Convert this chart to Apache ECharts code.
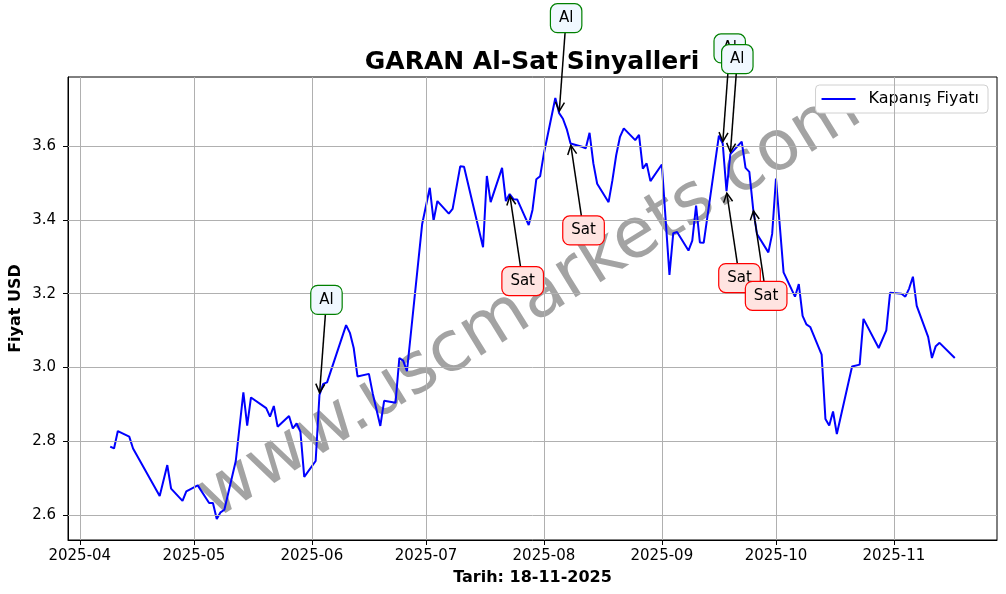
<!DOCTYPE html>
<html><head><meta charset="utf-8">
<script src="https://cdn.jsdelivr.net/npm/echarts@6/dist/echarts.min.js"></script>
<style>html,body{margin:0;padding:0;background:#fff}#c{width:1006px;height:594px}</style>
</head><body><div id="c"></div>
<script>
const dates = ['2025-04-09','2025-04-10','2025-04-11','2025-04-14','2025-04-15','2025-04-22','2025-04-24','2025-04-25','2025-04-28','2025-04-29',
'2025-05-02','2025-05-05','2025-05-06','2025-05-07','2025-05-08','2025-05-09','2025-05-12','2025-05-14','2025-05-15','2025-05-16',
'2025-05-20','2025-05-21','2025-05-22','2025-05-23','2025-05-26','2025-05-27','2025-05-28','2025-05-29','2025-05-30','2025-06-02',
'2025-06-03','2025-06-04','2025-06-05','2025-06-10','2025-06-11','2025-06-12','2025-06-13','2025-06-16','2025-06-17','2025-06-19',
'2025-06-20','2025-06-23','2025-06-24','2025-06-25','2025-06-26','2025-06-30','2025-07-02','2025-07-03','2025-07-04','2025-07-07',
'2025-07-08','2025-07-10','2025-07-11','2025-07-16','2025-07-17','2025-07-18','2025-07-21','2025-07-22','2025-07-23','2025-07-24',
'2025-07-25','2025-07-28','2025-07-29','2025-07-30','2025-07-31','2025-08-01','2025-08-04','2025-08-05','2025-08-06','2025-08-07',
'2025-08-08','2025-08-11','2025-08-12','2025-08-13','2025-08-14','2025-08-15','2025-08-18','2025-08-19','2025-08-20','2025-08-21',
'2025-08-22','2025-08-25','2025-08-26','2025-08-27','2025-08-28','2025-08-29','2025-09-01','2025-09-03','2025-09-04','2025-09-05',
'2025-09-08','2025-09-09','2025-09-10','2025-09-11','2025-09-12','2025-09-16','2025-09-17','2025-09-18','2025-09-19','2025-09-22',
'2025-09-23','2025-09-24','2025-09-25','2025-09-26','2025-09-29','2025-09-30','2025-10-01','2025-10-03','2025-10-06','2025-10-07',
'2025-10-08','2025-10-09','2025-10-10','2025-10-13','2025-10-14','2025-10-15','2025-10-16','2025-10-17','2025-10-21','2025-10-23',
'2025-10-24','2025-10-28','2025-10-30','2025-10-31','2025-11-03','2025-11-04','2025-11-05','2025-11-06','2025-11-07','2025-11-10',
'2025-11-11','2025-11-12','2025-11-13','2025-11-17'];
const closes = [2.786,2.781,2.828,2.813,2.781,2.652,2.736,2.672,2.639,2.665,
2.681,2.633,2.633,2.590,2.608,2.615,2.747,2.933,2.843,2.919,
2.890,2.867,2.896,2.840,2.869,2.835,2.849,2.826,2.704,2.747,
2.926,2.956,2.960,3.115,3.094,3.053,2.976,2.983,2.930,2.842,
2.910,2.905,3.026,3.019,2.990,3.389,3.487,3.398,3.451,3.417,
3.430,3.545,3.544,3.326,3.519,3.448,3.541,3.451,3.470,3.456,
3.455,3.386,3.427,3.510,3.518,3.580,3.730,3.689,3.674,3.646,
3.607,3.598,3.594,3.636,3.553,3.498,3.448,3.507,3.575,3.625,
3.648,3.616,3.630,3.539,3.553,3.505,3.550,3.251,3.364,3.367,
3.317,3.344,3.439,3.339,3.338,3.628,3.607,3.478,3.578,3.612,
3.541,3.530,3.430,3.362,3.312,3.362,3.512,3.258,3.192,3.226,
3.140,3.117,3.110,3.035,2.861,2.843,2.881,2.820,3.003,3.008,
3.132,3.053,3.101,3.203,3.200,3.192,3.214,3.246,3.167,3.083,
3.026,3.058,3.067,3.026];
const signalDates = ['2025-06-03','2025-07-23','2025-08-05','2025-08-08','2025-09-17','2025-09-18','2025-09-19','2025-09-25'];
const signalTypes = ['Al','Sat','Al','Sat','Al','Sat','Al','Sat'];
const monthTicks = ['2025-04-01','2025-05-01','2025-06-01','2025-07-01','2025-08-01','2025-09-01','2025-10-01','2025-11-01'];
const yTicks = [2.6, 2.8, 3.0, 3.2, 3.4, 3.6];
const seriesName = 'Kapanış Fiyatı';
const titleText = 'GARAN Al-Sat Sinyalleri';
const xName = 'Tarih: 18-11-2025';
const yName = 'Fiyat USD';
const watermark = 'www.uscmarkets.com';

const ts = s => { const [y,m,d] = s.split('-').map(Number); return new Date(y, m-1, d).getTime(); };
const tVals = dates.map(ts);
const xSpan = tVals[tVals.length-1] - tVals[0];
const xMin = tVals[0] - 0.05 * xSpan, xMax = tVals[tVals.length-1] + 0.05 * xSpan;
const vMin = Math.min(...closes), vMax = Math.max(...closes);
const yMin = vMin - 0.05 * (vMax - vMin), yMax = vMax + 0.05 * (vMax - vMin);
const priceData = tVals.map((t, i) => [t, closes[i]]);
const signalData = signalDates.map((d, i) => { const t = ts(d); return [t, closes[tVals.indexOf(t)], i]; });
const monthVals = monthTicks.map(ts);

const FONT = '"DejaVu Sans", sans-serif';
const sigStyle = {
  Al: { dx: 7, dy: -95, fill: '#f0f8ff', stroke: '#008000' },
  Sat: { dx: 13, dy: 87, fill: '#ffe4e1', stroke: '#ff0000' }
};
const mctx = document.createElement('canvas').getContext('2d');
mctx.font = '15px ' + FONT;

function renderSignal(params, api) {
  const p = api.coord([api.value(0), api.value(1)]);
  const t = signalTypes[api.value(2)];
  const st = sigStyle[t];
  const cx = p[0] + st.dx, cy = p[1] + st.dy;
  const w = mctx.measureText(t).width + 17, h = 29;
  const dyv = p[1] - cy, dxv = p[0] - cx;
  const k = (h / 2) / Math.abs(dyv);
  const sx = cx + dxv * k, sy = cy + dyv * k;
  const len = Math.hypot(p[0] - sx, p[1] - sy);
  const ux = (p[0] - sx) / len, uy = (p[1] - sy) / len;
  const ex = p[0] - ux * 2, ey = p[1] - uy * 2;
  const L = 9, W = 4.5, nx = -uy, ny = ux;
  return {
    type: 'group',
    children: [
      { type: 'line', shape: { x1: sx, y1: sy, x2: ex, y2: ey }, style: { stroke: '#000', lineWidth: 1.5 } },
      { type: 'polyline', shape: { points: [[ex - ux*L + nx*W, ey - uy*L + ny*W], [ex, ey], [ex - ux*L - nx*W, ey - uy*L - ny*W]] },
        style: { stroke: '#000', lineWidth: 1.5, fill: null } },
      { type: 'rect', shape: { x: cx - w/2, y: cy - h/2, width: w, height: h, r: 7 }, style: { fill: st.fill, stroke: st.stroke, lineWidth: 1.2 } },
      { type: 'text', style: { text: t, x: cx, y: cy, align: 'center', verticalAlign: 'middle', font: '15px ' + FONT, fill: '#000' } }
    ]
  };
}

const pad2 = n => String(n).padStart(2, '0');
const chart = echarts.init(document.getElementById('c'));
chart.setOption({
  animation: false,
  backgroundColor: '#fff',
  textStyle: { fontFamily: FONT },
  title: { text: titleText, left: 527, top: 45, textAlign: 'center',
    textStyle: { fontFamily: FONT, fontSize: 25, fontWeight: 'bold', color: '#000' } },
  legend: { data: [seriesName], right: 18, top: 85, icon: 'rect', itemWidth: 34, itemHeight: 2,
    padding: [6, 9, 6, 6], backgroundColor: '#fff', borderColor: '#d0d0d0', borderWidth: 1, borderRadius: 4,
    textStyle: { fontFamily: FONT, fontSize: 16, color: '#000', padding: [0, 0, 0, 8] } },
  grid: { left: 68, right: 9, top: 77, bottom: 54, show: true, borderColor: '#000', borderWidth: 1,
    backgroundColor: 'transparent', containLabel: false, outerBoundsMode: 'none' },
  xAxis: {
    type: 'value', min: xMin, max: xMax, scale: true,
    name: xName, nameLocation: 'middle', nameGap: 30, nameMoveOverlap: false,
    nameTextStyle: { fontFamily: FONT, fontSize: 16, fontWeight: 'bold', color: '#000' },
    axisLine: { show: true, onZero: false, lineStyle: { color: '#000', width: 1 } },
    axisTick: { show: true, length: 5, lineStyle: { color: '#000' }, customValues: monthVals },
    axisLabel: { customValues: monthVals, fontFamily: FONT, fontSize: 15, color: '#000', margin: 9,
      formatter: v => { const d = new Date(v); return d.getFullYear() + '-' + pad2(d.getMonth() + 1); } },
    splitLine: { show: false }
  },
  yAxis: {
    type: 'value', min: yMin, max: yMax, scale: true,
    name: yName, nameLocation: 'middle', nameGap: 44, nameRotate: 90, nameMoveOverlap: false,
    nameTextStyle: { fontFamily: FONT, fontSize: 16, fontWeight: 'bold', color: '#000' },
    axisLine: { show: true, onZero: false, lineStyle: { color: '#000', width: 1 } },
    axisTick: { show: true, length: 5, lineStyle: { color: '#000' }, customValues: yTicks },
    axisLabel: { customValues: yTicks, fontFamily: FONT, fontSize: 15, color: '#000', margin: 12, formatter: v => v.toFixed(1) },
    splitLine: { show: false }
  },
  graphic: [{
    type: 'text', x: 530, y: 304, rotation: 0.552, z: 1, silent: true,
    style: { text: watermark, font: '70px ' + FONT, fill: 'rgba(128,128,128,0.72)', align: 'center', verticalAlign: 'middle' }
  }],
  series: [
    { name: 'grid', type: 'line', data: priceData, z: 0, silent: true, showSymbol: false, lineStyle: { opacity: 0 },
      markLine: { silent: true, symbol: ['none', 'none'], label: { show: false }, animation: false,
        lineStyle: { color: '#b0b0b0', width: 1, type: 'solid' },
        data: yTicks.map(v => ({ yAxis: v })).concat(monthVals.map(v => ({ xAxis: v }))) } },
    { name: seriesName, type: 'line', data: priceData, z: 3, showSymbol: false, symbol: 'none',
      lineStyle: { color: '#0000ff', width: 2 }, itemStyle: { color: '#0000ff' } },
    { name: 'signals', type: 'custom', coordinateSystem: 'cartesian2d', data: signalData, encode: { x: 0, y: 1 },
      renderItem: renderSignal, clip: false, z: 10, silent: true }
  ]
});
</script>
</body></html>
